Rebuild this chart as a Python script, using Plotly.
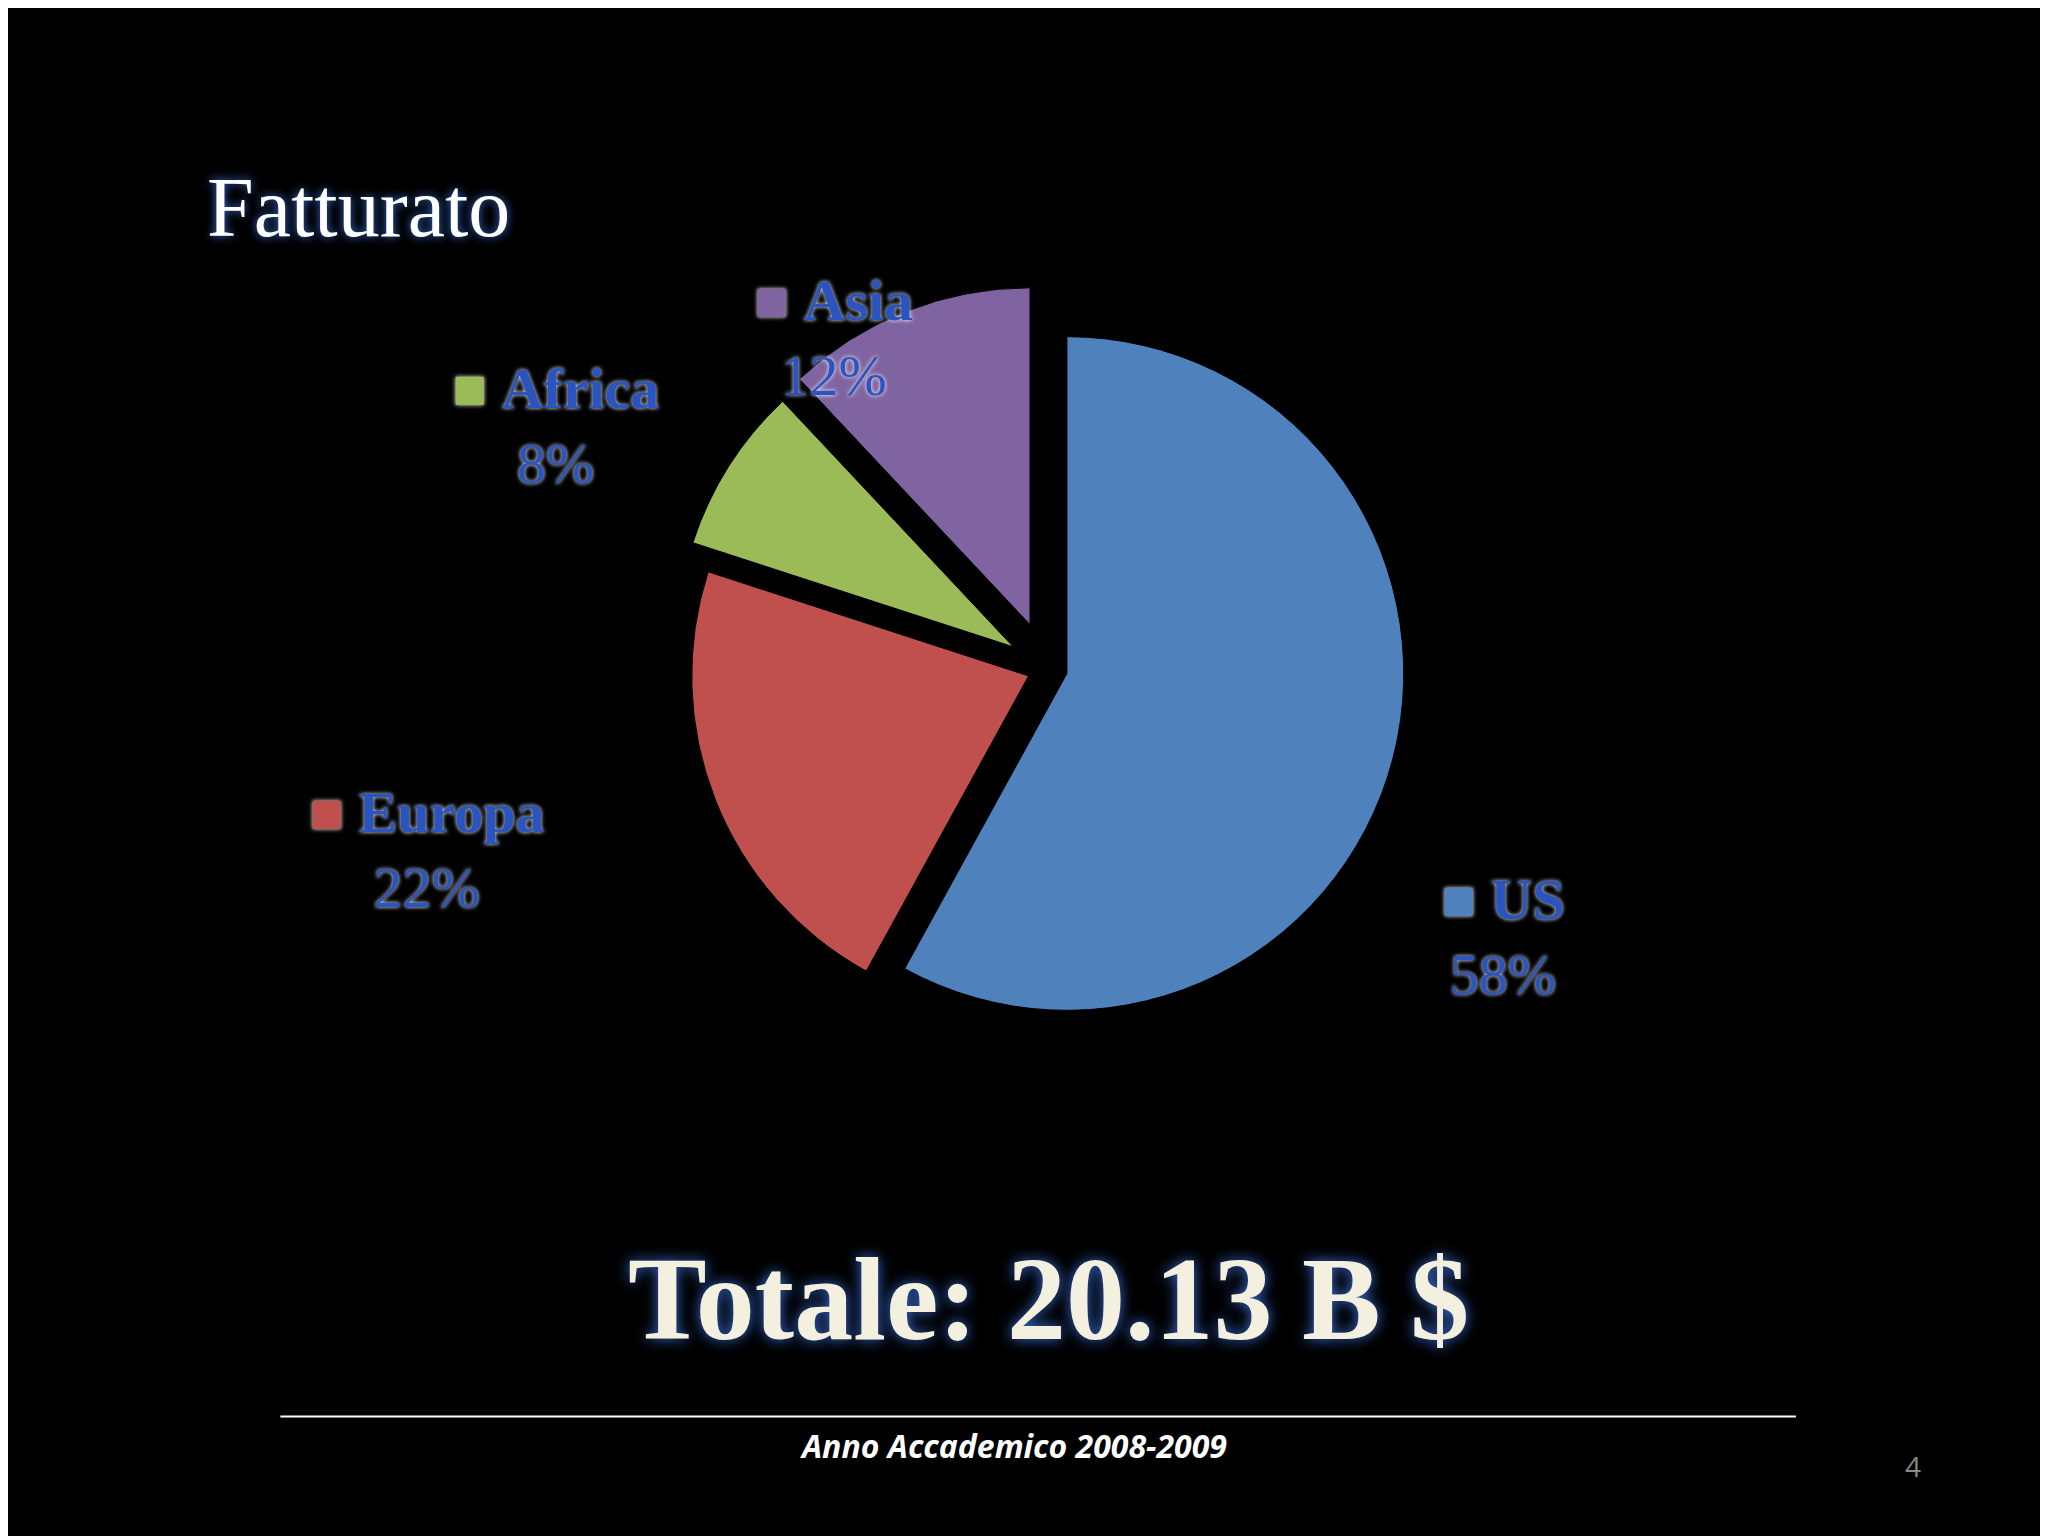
import plotly.graph_objects as go

regions = ["US", "Europa", "Africa", "Asia"]
shares = [58, 22, 8, 12]
colors = ["#4F81BD", "#C0504D", "#9BBB59", "#8064A2"]
pulls = [0.06, 0.06, 0.12, 0.14]

# label anchor positions (paper coords), one per region
label_x = [0.761, 0.146, 0.216, 0.403]
label_y = [0.395, 0.452, 0.775, 0.832]

fig = go.Figure(go.Pie(
    labels=regions, values=shares, sort=False, direction="clockwise",
    rotation=0, pull=pulls, textinfo="none", hoverinfo="label+percent",
    marker=dict(colors=colors, line=dict(color="#000", width=1)),
    domain=dict(x=[0.32, 0.695], y=[0.32, 0.82]), showlegend=False,
))

lab_font = dict(family="Liberation Serif", size=58, color="#2A55C0",
                shadow="0 0 4px #ffffff")
for r, s, c, x, y in zip(regions, shares, colors, label_x, label_y):
    fig.add_annotation(x=x, y=y, xref="paper", yref="paper", showarrow=False,
                       text=f"<span style='color:{c}'>■</span> <b>{r}</b><br>{s}%",
                       font=lab_font, align="center")

fig.add_annotation(x=0.096, y=0.902, xref="paper", yref="paper", showarrow=False,
                   xanchor="left", text="Fatturato",
                   font=dict(family="Liberation Serif", size=84, color="#ffffff",
                             shadow="0 0 10px #3a6fd8"))
fig.add_annotation(x=0.508, y=0.115, xref="paper", yref="paper", showarrow=False,
                   text="<b>Totale: 20.13 B $</b>",
                   font=dict(family="Liberation Serif", size=118, color="#f4f0e0",
                             shadow="0 0 14px #3a6fd8"))
fig.add_shape(type="line", xref="paper", yref="paper", x0=0.133, x1=0.873,
              y0=0.083, y1=0.083, line=dict(color="#ffffff", width=2))
fig.add_annotation(x=0.491, y=0.049, xref="paper", yref="paper", showarrow=False,
                   text="<b><i>Anno Accademico 2008-2009</i></b>",
                   font=dict(family="Open Sans", size=32, color="#ffffff"))
fig.add_annotation(x=0.935, y=0.037, xref="paper", yref="paper", showarrow=False,
                   text="4", font=dict(family="Open Sans", size=28, color="#888888"))

fig.update_layout(width=2048, height=1536, paper_bgcolor="#000000",
                  plot_bgcolor="#000000", margin=dict(l=0, r=0, t=0, b=0))
fig.write_html("out.html")
